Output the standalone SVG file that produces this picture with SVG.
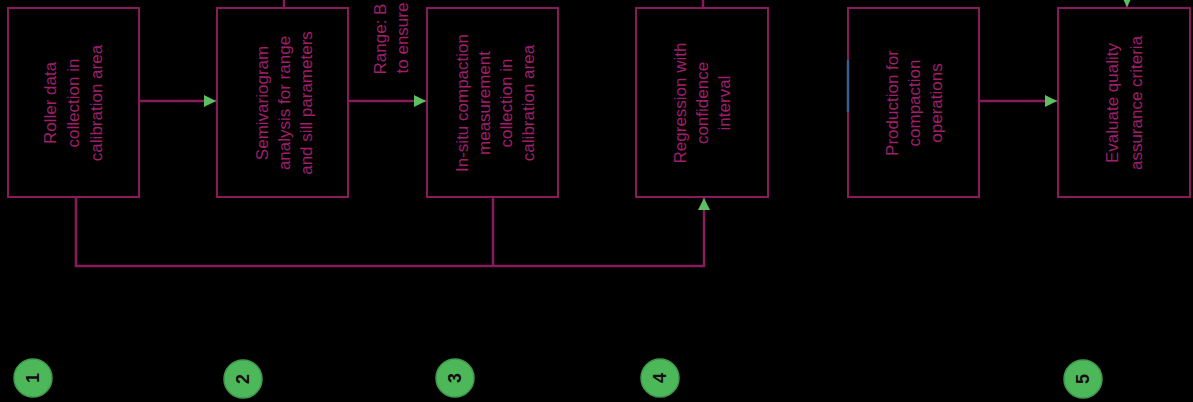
<svg xmlns="http://www.w3.org/2000/svg" width="1193" height="402" viewBox="0 0 1193 402">
<style>
.box{fill:#000;stroke:#8a1a5c;stroke-width:2}
.lbl{fill:#a01f6c;font-family:"Liberation Sans",Arial,sans-serif;font-size:17px;text-anchor:middle;dominant-baseline:central}
.conn{fill:none;stroke:#8a1a5c;stroke-width:2.5}
.badge{fill:#4cb85a;stroke:#3f9a4c;stroke-width:1.5}
.num{fill:#1a0a12;font-family:"Liberation Sans",Arial,sans-serif;font-size:18px;font-weight:bold;text-anchor:middle;dominant-baseline:central}
</style>
<defs>
<marker id="ah" viewBox="0 0 10 10" refX="10" refY="5" markerWidth="12" markerHeight="12" markerUnits="userSpaceOnUse" orient="auto">
<path d="M0,0 L10,5 L0,10 z" fill="#5cc060"/>
</marker>
</defs>
<rect width="1193" height="402" fill="#000"/>
<g id="connectors">
<line class="conn" x1="139" y1="101" x2="216" y2="101" marker-end="url(#ah)"/>
<line class="conn" x1="348" y1="101" x2="426" y2="101" marker-end="url(#ah)"/>
<line class="conn" x1="979" y1="101" x2="1057" y2="101" marker-end="url(#ah)"/>
<polyline class="conn" points="76,197 76,266 704,266 704,198" marker-end="url(#ah)"/>
<line class="conn" x1="493" y1="197" x2="493" y2="266" stroke="#b0507f"/>
<line class="conn" x1="284" y1="0" x2="284" y2="8"/>
<line class="conn" x1="703" y1="0" x2="703" y2="8"/>
<line class="conn" x1="1127" y1="-20" x2="1127" y2="7" marker-end="url(#ah)"/>
<g transform="translate(380,39) rotate(-90)"><text class="lbl" x="0" y="0">Range: B</text></g>
<g transform="translate(402,38) rotate(-90)"><text class="lbl" x="0" y="0">to ensure</text></g>
</g>
<g id="n1">
<rect class="box" x="8" y="8" width="131" height="189"/>
<g transform="translate(73.5,103) rotate(-90)">
<text class="lbl" x="0" y="-23">Roller data</text>
<text class="lbl" x="0" y="0">collection in</text>
<text class="lbl" x="0" y="23">calibration area</text>
</g>
</g>
<g id="n2">
<rect class="box" x="217" y="8" width="131" height="189"/>
<g transform="translate(284,103) rotate(-90)">
<text class="lbl" x="0" y="-22">Semivariogram</text>
<text class="lbl" x="0" y="0">analysis for range</text>
<text class="lbl" x="0" y="22">and sill parameters</text>
</g>
</g>
<g id="n3">
<rect class="box" x="427" y="8" width="131" height="189"/>
<g transform="translate(495,103) rotate(-90)">
<text class="lbl" x="0" y="-33">In-situ compaction</text>
<text class="lbl" x="0" y="-11">measurement</text>
<text class="lbl" x="0" y="11">collection in</text>
<text class="lbl" x="0" y="33">calibration area</text>
</g>
</g>
<g id="n4">
<rect class="box" x="636" y="8" width="132" height="189"/>
<g transform="translate(702,103) rotate(-90)">
<text class="lbl" x="0" y="-22">Regression with</text>
<text class="lbl" x="0" y="0">confidence</text>
<text class="lbl" x="0" y="22">interval</text>
</g>
</g>
<g id="n5">
<rect class="box" x="848" y="8" width="131" height="189"/>
<line x1="848" y1="60" x2="848" y2="112" stroke="#3a5f8f" stroke-width="2.5"/>
<g transform="translate(914,103) rotate(-90)">
<text class="lbl" x="0" y="-22">Production for</text>
<text class="lbl" x="0" y="0">compaction</text>
<text class="lbl" x="0" y="22">operations</text>
</g>
</g>
<g id="n6">
<rect class="box" x="1058" y="8" width="132" height="189"/>
<g transform="translate(1124,103) rotate(-90)">
<text class="lbl" x="0" y="-12">Evaluate quality</text>
<text class="lbl" x="0" y="12">assurance criteria</text>
</g>
</g>
<g id="b1"><circle class="badge" cx="33" cy="378" r="19"/><text class="num" transform="translate(33,378) rotate(-90)">1</text></g>
<g id="b2"><circle class="badge" cx="243" cy="379" r="19"/><text class="num" transform="translate(243,379) rotate(-90)">2</text></g>
<g id="b3"><circle class="badge" cx="455" cy="378" r="19"/><text class="num" transform="translate(455,378) rotate(-90)">3</text></g>
<g id="b4"><circle class="badge" cx="660" cy="378" r="19"/><text class="num" transform="translate(660,378) rotate(-90)">4</text></g>
<g id="b5"><circle class="badge" cx="1083" cy="379" r="19"/><text class="num" transform="translate(1083,379) rotate(-90)">5</text></g>
</svg>
